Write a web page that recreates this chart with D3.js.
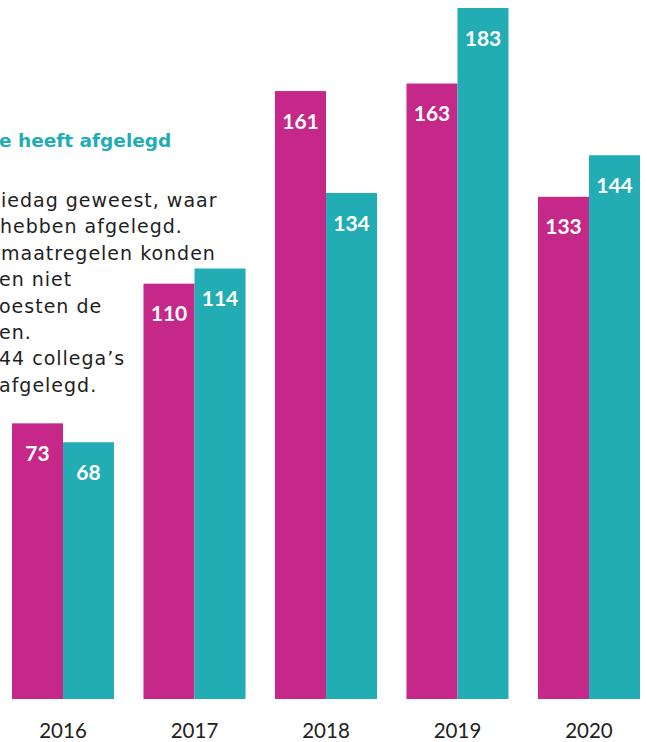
<!DOCTYPE html>
<meta charset="utf-8">
<style>
body { margin: 0; background: #fff; }
svg { display: block; }
.year { font: 20.5px Lato, sans-serif; fill: #222; text-anchor: middle; }
.val { font: bold 21px Lato, sans-serif; fill: #fff; text-anchor: middle; }
.title { font: bold 18.5px "DejaVu Sans", sans-serif; fill: #22adb5; }
.body { font: 19px "DejaVu Sans", sans-serif; fill: #1e1e1e; letter-spacing: 1px; }
</style>
<svg width="647" height="742" id="chart"></svg>
<script src="https://cdn.jsdelivr.net/npm/d3@7"></script>
<script>

var years = ["2016", "2017", "2018", "2019", "2020"];
var seriesA = [73, 110, 161, 163, 133];   // magenta
var seriesB = [68, 114, 134, 183, 144];   // teal
var titleText = "e heeft afgelegd";
var bodyLines = [
  "iedag geweest, waar",
  "hebben afgelegd.",
  "maatregelen konden",
  "en niet",
  "oesten de",
  "en.",
  "44 collega\u2019s",
  "afgelegd."
];

var svg = d3.select("svg#chart"),
    bottom = 699;

var x0 = d3.scaleBand().domain(years).range([12, 640]).paddingInner(0.224).paddingOuter(0),
    x1 = d3.scaleBand().domain(["a", "b"]).range([0, x0.bandwidth()]),
    y = d3.scaleLinear().domain([0, 183]).range([bottom, 8]),
    color = d3.scaleOrdinal().domain(["a", "b"]).range(["#c52888", "#22adb5"]);

var data = years.map(function(yr, i) {
  return {year: yr, values: [{key: "a", v: seriesA[i]}, {key: "b", v: seriesB[i]}]};
});

// left text block, starts right at the edge
svg.append("text")
    .attr("class", "title")
    .attr("x", -1)
    .attr("y", 147)
    .text(titleText);

var bodyOffsets = [1, 0, 1, -1, -1, -1, -1, -1];
svg.selectAll("text.body")
  .data(bodyLines)
  .enter().append("text")
    .attr("class", "body")
    .attr("x", function(d, i) { return bodyOffsets[i]; })
    .attr("y", function(d, i) { return 207 + i * 26.4; })
    .text(function(d) { return d; });

var group = svg.selectAll(".group")
  .data(data)
  .enter().append("g")
    .attr("class", "group")
    .attr("transform", function(d) { return "translate(" + x0(d.year) + ",0)"; });

group.selectAll("rect")
  .data(function(d) { return d.values; })
  .enter().append("rect")
    .attr("x", function(d) { return x1(d.key); })
    .attr("y", function(d) { return y(d.v); })
    .attr("width", x1.bandwidth())
    .attr("height", function(d) { return bottom - y(d.v); })
    .attr("fill", function(d) { return color(d.key); });

group.selectAll("text.val")
  .data(function(d) { return d.values; })
  .enter().append("text")
    .attr("class", "val")
    .attr("x", function(d) { return x1(d.key) + x1.bandwidth() / 2; })
    .attr("y", function(d) { return y(d.v) + 37.5; })
    .text(function(d) { return d.v; });

group.append("text")
    .attr("class", "year")
    .attr("x", x0.bandwidth() / 2)
    .attr("y", 738)
    .text(function(d) { return d.year; });

</script>
